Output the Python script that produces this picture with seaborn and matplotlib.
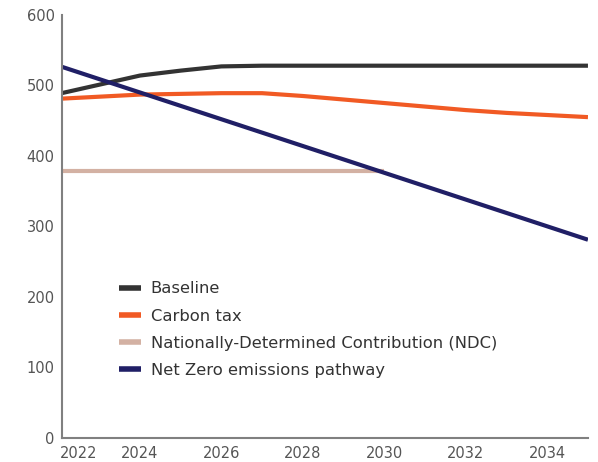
import numpy as np
import pandas as pd
import matplotlib
matplotlib.use("Agg")
import matplotlib.pyplot as plt
import seaborn as sns

# Emissions scenarios by year
years = list(range(2022, 2036))
baseline = [488, 501, 514, 521, 527, 528, 528, 528, 528, 528, 528, 528, 528, 528]
carbon_tax = [481, 484, 487, 488, 489, 489, 485, 480, 475, 470, 465, 461, 458, 455]
ndc_years = list(range(2022, 2031))
ndc = [378, 378, 378, 378, 378, 378, 378, 378, 378]
net_zero = [528, 509, 490, 471, 452, 433, 414, 395, 376, 357, 338, 319, 300, 281]

series_names = [
    "Baseline",
    "Carbon tax",
    "Nationally-Determined Contribution (NDC)",
    "Net Zero emissions pathway",
]
colors = ["#333333", "#F15A24", "#D3B1A3", "#201F66"]

x_tick_pos = [2022.5, 2024, 2026, 2028, 2030, 2032, 2034]
x_tick_labels = ["2022", "2024", "2026", "2028", "2030", "2032", "2034"]
y_ticks = [0, 100, 200, 300, 400, 500, 600]

frames = [
    pd.DataFrame({"year": years, "value": baseline, "scenario": series_names[0]}),
    pd.DataFrame({"year": years, "value": carbon_tax, "scenario": series_names[1]}),
    pd.DataFrame({"year": ndc_years, "value": ndc, "scenario": series_names[2]}),
    pd.DataFrame({"year": years, "value": net_zero, "scenario": series_names[3]}),
]
df = pd.concat(frames, ignore_index=True)

sns.set_theme(style="white")
plt.rcParams["font.family"] = ["DejaVu Sans"]

fig = plt.figure(figsize=(5.98, 4.62), dpi=100)
ax = fig.add_axes([0.1032, 0.0526, 0.88, 0.915])

sns.lineplot(
    data=df, x="year", y="value", hue="scenario",
    hue_order=series_names, palette=colors,
    linewidth=3.0, ax=ax, solid_capstyle="butt",
)

ax.set_xlim(2022.08, 2035)
ax.set_ylim(0, 600)
ax.set_xticks(x_tick_pos)
ax.set_xticklabels(x_tick_labels)
ax.set_yticks(y_ticks)
ax.set_xlabel("")
ax.set_ylabel("")

for side in ["top", "right"]:
    ax.spines[side].set_visible(False)
for side in ["left", "bottom"]:
    ax.spines[side].set_color("#808080")
    ax.spines[side].set_linewidth(1.5)

ax.tick_params(axis="both", direction="in", length=7, width=1.5,
               color="#808080", labelcolor="#555555", labelsize=10.5)
ax.tick_params(axis="x", pad=6)
ax.tick_params(axis="y", pad=5)

leg = ax.legend(
    loc="upper left", bbox_to_anchor=(0.08, 0.405), frameon=False,
    fontsize=11.8, handlelength=1.35, handletextpad=0.6, labelspacing=0.75,
)
for line in leg.get_lines():
    line.set_linewidth(4)
for txt in leg.get_texts():
    txt.set_color("#333333")

fig.savefig("out.png", dpi=100)
